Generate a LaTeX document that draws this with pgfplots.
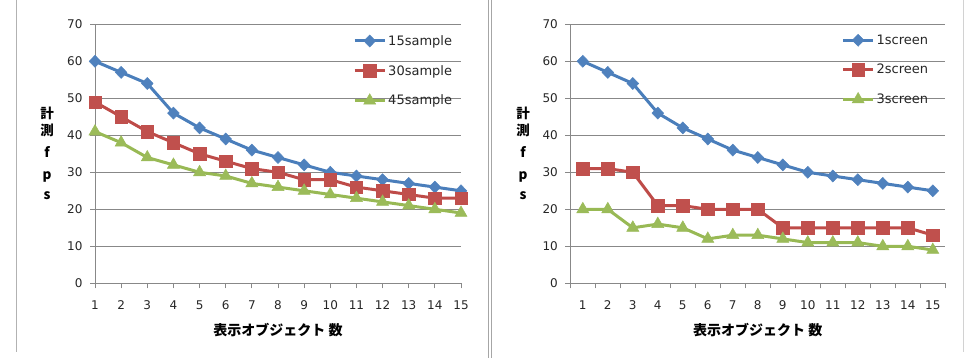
\documentclass[border=0pt]{standalone}
\usepackage{fontspec}
\setmainfont{DejaVu Sans}
\newfontfamily\cjk{Noto Sans CJK JP}
\usepackage{pgfplots}
\pgfplotsset{compat=1.18}
\definecolor{gridgray}{HTML}{888888}
\definecolor{bline}{HTML}{4A7EBB}
\definecolor{bmark}{HTML}{4F81BD}
\definecolor{rline}{HTML}{BE4B48}
\definecolor{rmark}{HTML}{C0504D}
\definecolor{gline}{HTML}{98B954}
\definecolor{gmark}{HTML}{9BBB59}

\pgfplotsset{
  excel/.style={
    scale only axis, height=259pt,
    /pgf/number format/assume math mode=true,
    ymin=0, ymax=70, ytick={0,10,...,70},
    ymajorgrids, grid style={line width=1pt, color=gridgray},
    axis x line*=bottom, axis y line*=left,
    axis line style={-, line width=1pt, color=gridgray},
    tick align=outside, major tick length=5pt, minor tick length=5pt,
    tick style={line width=0.8pt, color=gridgray},
    ticklabel style={font=\fontsize{12}{14}\selectfont, text=black!85},
    xticklabel style={yshift=-8.5pt},
    yticklabel style={xshift=-4pt},
    xtick={1,...,15},
    every axis x label/.style={at={(axis description cs:0.5,0)}, yshift=-47pt, anchor=center},
    xlabel={\cjk\bfseries\fontsize{14}{16}\selectfont 表示オブジェクト 数},
    ylabel={計\\測\\[5pt]f\\[5pt]p\\[3pt]s},
    legend style={draw=none, fill=none, font=\fontsize{13}{15}\selectfont, text=black!85,
      anchor=north west, row sep=14.5pt, inner sep=0pt,
      /tikz/every even column/.append style={column sep=0pt}},
    legend cell align=left,
    legend image code/.code={\draw[mark repeat=2, mark phase=2, #1] plot coordinates {(0pt,0pt) (15pt,0pt) (30pt,0pt)};},
    sb/.style={color=bline, line width=3pt, mark=diamond*, mark size=6pt,
      mark options={fill=bmark, draw=bmark, line width=0.5pt, xscale=1.3}},
    sr/.style={color=rline, line width=3pt, mark=square*, mark size=6.2pt,
      mark options={fill=rmark, draw=rmark, line width=0.5pt}},
    sg/.style={color=gline, line width=3pt, mark=triangle*, mark size=7pt,
      mark options={fill=gmark, draw=gmark, line width=0.5pt}},
  }
}

\begin{document}
\begin{tikzpicture}[x=1pt,y=1pt]
\useasboundingbox (0,0) rectangle (966,358);
\draw[gray!60, line width=1pt] (16,358) -- (16,6);
\draw[gray!70, line width=0.8pt] (488,358) -- (488,0);
\draw[gray!70, line width=0.8pt] (491,358) -- (491,0);
\draw[gray!35, line width=0.8pt] (963,358) -- (963,6);

\begin{axis}[excel, at={(95pt,74.7pt)}, anchor=south west, width=366pt,
  xmin=1, xmax=15,
  every axis y label/.style={at={(axis description cs:-0.131,0.5)}, anchor=center, align=center,
    font=\cjk\bfseries\fontsize{13.5}{17}\selectfont},
  legend style={at={(axis description cs:0.705,0.966)}}]
\addplot[sb] coordinates {(1,60) (2,57) (3,54) (4,46) (5,42) (6,39) (7,36) (8,34) (9,32) (10,30) (11,29) (12,28) (13,27) (14,26) (15,25)};
\addlegendentry{15sample}
\addplot[sr] coordinates {(1,49) (2,45) (3,41) (4,38) (5,35) (6,33) (7,31) (8,30) (9,28) (10,28) (11,26) (12,25) (13,24) (14,23) (15,23)};
\addlegendentry{30sample}
\addplot[sg] coordinates {(1,41) (2,38) (3,34) (4,32) (5,30) (6,29) (7,27) (8,26) (9,25) (10,24) (11,23) (12,22) (13,21) (14,20) (15,19)};
\addlegendentry{45sample}
\end{axis}

\begin{axis}[excel, at={(570.3pt,74.7pt)}, anchor=south west, width=375pt,
  xmin=0.5, xmax=15.5,
  major x tick style={draw=none},
  minor xtick={0.5,1.5,...,15.5},
  minor x tick style={line width=0.8pt, color=gridgray},
  every axis y label/.style={at={(axis description cs:-0.126,0.5)}, anchor=center, align=center,
    font=\cjk\bfseries\fontsize{13.5}{17}\selectfont},
  legend style={at={(axis description cs:0.723,0.968)}}]
\addplot[sb] coordinates {(1,60) (2,57) (3,54) (4,46) (5,42) (6,39) (7,36) (8,34) (9,32) (10,30) (11,29) (12,28) (13,27) (14,26) (15,25)};
\addlegendentry{1screen}
\addplot[sr] coordinates {(1,31) (2,31) (3,30) (4,21) (5,21) (6,20) (7,20) (8,20) (9,15) (10,15) (11,15) (12,15) (13,15) (14,15) (15,13)};
\addlegendentry{2screen}
\addplot[sg] coordinates {(1,20) (2,20) (3,15) (4,16) (5,15) (6,12) (7,13) (8,13) (9,12) (10,11) (11,11) (12,11) (13,10) (14,10) (15,9)};
\addlegendentry{3screen}
\end{axis}
\end{tikzpicture}
\end{document}
